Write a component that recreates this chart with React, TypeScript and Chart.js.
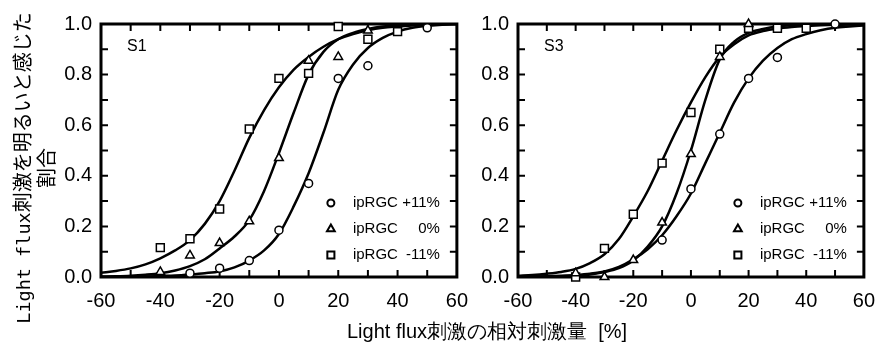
import React, { useEffect, useRef } from 'react';
import { Chart, registerables } from 'chart.js';

Chart.register(...registerables);

// ---------- data ----------
const xTickValues = [-60, -40, -20, 0, 20, 40, 60];
const yTickValues = [0, 0.2, 0.4, 0.6, 0.8, 1.0];
const xMarkValues = [-50, -40, -30, -20, -10, 0, 10, 20, 30, 40, 50];
const yMarkValues = [0.1, 0.2, 0.3, 0.4, 0.5, 0.6, 0.7, 0.8, 0.9];

const seriesLabels = ['ipRGC +11%', 'ipRGC 0%', 'ipRGC -11%'];
const panelLabels = ['S1', 'S3'];

// fitted curves sampled at these x values
const curveX = [-60, -55, -50, -45, -40, -35, -30, -25, -20, -15, -10, -5, 0, 5, 10, 15, 20, 25, 30, 35, 40, 45, 50, 55, 60];

const s1CurvePlus11 = [0, 0, 0.001, 0.002, 0.004, 0.006, 0.01, 0.015, 0.022, 0.038, 0.065, 0.105, 0.17, 0.28, 0.41, 0.57, 0.74, 0.84, 0.905, 0.945, 0.97, 0.985, 0.993, 0.997, 1.0];
const s1Curve0 = [0.002, 0.003, 0.005, 0.009, 0.015, 0.026, 0.043, 0.07, 0.113, 0.16, 0.225, 0.34, 0.49, 0.65, 0.8, 0.89, 0.94, 0.965, 0.98, 0.99, 0.995, 0.997, 0.999, 1.0, 1.0];
const s1CurveMinus11 = [0.017, 0.024, 0.034, 0.05, 0.074, 0.105, 0.146, 0.21, 0.3, 0.42, 0.55, 0.66, 0.75, 0.82, 0.87, 0.91, 0.94, 0.96, 0.975, 0.985, 0.99, 0.994, 0.997, 0.999, 1.0];

const s3CurvePlus11 = [0.001, 0.002, 0.003, 0.005, 0.008, 0.013, 0.022, 0.04, 0.07, 0.11, 0.165, 0.24, 0.33, 0.45, 0.57, 0.69, 0.785, 0.855, 0.905, 0.94, 0.96, 0.975, 0.985, 0.99, 0.994];
const s3Curve0 = [0, 0.001, 0.001, 0.002, 0.004, 0.01, 0.02, 0.035, 0.065, 0.12, 0.2, 0.33, 0.5, 0.7, 0.86, 0.93, 0.965, 0.98, 0.99, 0.995, 0.997, 0.999, 1.0, 1.0, 1.0];
const s3CurveMinus11 = [0.005, 0.008, 0.013, 0.02, 0.032, 0.055, 0.09, 0.15, 0.24, 0.34, 0.46, 0.58, 0.69, 0.79, 0.87, 0.92, 0.955, 0.972, 0.982, 0.988, 0.992, 0.995, 0.997, 0.998, 1.0];

// measured points
const s1PlusX = [-30, -20, -10, 0, 10, 20, 30, 50];
const s1PlusY = [0.015, 0.035, 0.065, 0.185, 0.37, 0.785, 0.835, 0.985];
const s1ZeroX = [-40, -30, -20, -10, 0, 10, 20, 30];
const s1ZeroY = [0.02, 0.085, 0.134, 0.22, 0.47, 0.855, 0.87, 0.974];
const s1MinusX = [-40, -30, -20, -10, 0, 10, 20, 30, 40];
const s1MinusY = [0.116, 0.151, 0.269, 0.585, 0.785, 0.805, 0.99, 0.94, 0.97];

const s3PlusX = [-10, 0, 10, 20, 30, 50];
const s3PlusY = [0.146, 0.348, 0.565, 0.785, 0.868, 1.0];
const s3ZeroX = [-40, -30, -20, -10, 0, 10, 20];
const s3ZeroY = [0.015, 0.0, 0.067, 0.215, 0.486, 0.87, 1.0];
const s3MinusX = [-40, -30, -20, -10, 0, 10, 20, 30, 40];
const s3MinusY = [0.0, 0.113, 0.248, 0.45, 0.65, 0.9, 0.983, 0.983, 0.983];

const pointStyles = ['circle', 'triangle', 'rect'];
const pointRadii = [4, 5, 5.6];

// ---------- helpers ----------
const FONT = 'Arial, "Liberation Sans", sans-serif';
const zip = (xs: number[], ys: number[]) => xs.map((x, i) => ({ x, y: ys[i] }));

function drawMarker(ctx: CanvasRenderingContext2D, style: string, x: number, y: number, r: number) {
  ctx.beginPath();
  if (style === 'circle') {
    ctx.arc(x, y, r, 0, Math.PI * 2);
  } else if (style === 'triangle') {
    const h = r * 1.5;
    const s = r * Math.sqrt(3) / 2;
    ctx.moveTo(x, y - r);
    ctx.lineTo(x + s, y - r + h);
    ctx.lineTo(x - s, y - r + h);
    ctx.closePath();
  } else {
    const s = r * Math.SQRT1_2;
    ctx.rect(x - s, y - s, 2 * s, 2 * s);
  }
  ctx.fill();
  ctx.stroke();
}

const framePlugin = {
  id: 'frame',
  beforeDatasetsDraw(chart: any) {
    const { ctx, chartArea: a, scales } = chart;
    const x = scales.x;
    const y = scales.y;
    ctx.save();
    ctx.strokeStyle = '#000';
    ctx.lineWidth = 2;
    const tl = 7;
    ctx.beginPath();
    xMarkValues.forEach((v) => {
      const px = x.getPixelForValue(v);
      ctx.moveTo(px, a.bottom);
      ctx.lineTo(px, a.bottom - tl);
      ctx.moveTo(px, a.top);
      ctx.lineTo(px, a.top + tl);
    });
    yMarkValues.forEach((v) => {
      const py = y.getPixelForValue(v);
      ctx.moveTo(a.left, py);
      ctx.lineTo(a.left + tl, py);
      ctx.moveTo(a.right, py);
      ctx.lineTo(a.right - tl, py);
    });
    ctx.stroke();
    ctx.lineWidth = 3;
    ctx.strokeRect(a.left, a.top, a.right - a.left, a.bottom - a.top);

    // panel label
    const opts = chart.options.plugins.frame || {};
    ctx.fillStyle = '#000';
    ctx.font = `16px ${FONT}`;
    ctx.textBaseline = 'top';
    ctx.textAlign = 'left';
    ctx.fillText(opts.panel || '', a.left + 26, a.top + 15);

    // legend
    const rows = [-74, -48, -22];
    ctx.font = `15px ${FONT}`;
    ctx.textBaseline = 'middle';
    seriesLabels.forEach((lab, i) => {
      const ry = a.bottom + rows[i];
      ctx.lineWidth = 2;
      ctx.fillStyle = '#fff';
      drawMarker(ctx, pointStyles[i], a.right - 126, ry, [3.5, 4.5, 5][i]);
      ctx.fillStyle = '#000';
      const sp = lab.lastIndexOf(' ');
      ctx.textAlign = 'left';
      ctx.fillText(lab.slice(0, sp), a.right - 104, ry);
      ctx.textAlign = 'right';
      ctx.fillText(lab.slice(sp + 1), a.right - 17, ry);
    });
    ctx.restore();
  },
};

function makeConfig(panel: string, curves: number[][], pts: { x: number; y: number }[][], yAxisWidth: number, padRight: number) {
  const pointSets = pts.map((data, i) => ({
    label: seriesLabels[i],
    data,
    showLine: false,
    pointStyle: pointStyles[i],
    pointRadius: pointRadii[i],
    pointBorderWidth: 1.5,
    borderColor: '#000',
    pointBackgroundColor: '#fff',
    backgroundColor: '#fff',
    clip: false,
  }));
  const curveSets = curves.map((ys, i) => ({
    label: seriesLabels[i] + ' fit',
    data: zip(curveX, ys),
    borderColor: '#000',
    borderWidth: 2.5,
    pointRadius: 0,
    cubicInterpolationMode: 'monotone',
    fill: false,
  }));
  return {
    type: 'line',
    data: { datasets: [...pointSets, ...curveSets] },
    options: {
      responsive: false,
      animation: false,
      devicePixelRatio: 1,
      layout: { padding: { top: 24, right: padRight, left: 0, bottom: 0 } },
      plugins: {
        legend: { display: false },
        tooltip: { enabled: false },
        frame: { panel },
      },
      scales: {
        x: {
          type: 'linear',
          min: -60,
          max: 60,
          grid: { display: false, drawTicks: false },
          border: { display: false },
          afterBuildTicks: (s: any) => { s.ticks = xTickValues.map((value) => ({ value })); },
          afterFit: (s: any) => { s.height = 66; },
          ticks: {
            color: '#000',
            font: { family: FONT, size: 20 },
            padding: 12,
            maxRotation: 0,
            callback: (v: any) => String(v),
          },
        },
        y: {
          type: 'linear',
          min: 0,
          max: 1,
          grid: { display: false, drawTicks: false },
          border: { display: false },
          afterBuildTicks: (s: any) => { s.ticks = yTickValues.map((value) => ({ value })); },
          afterFit: (s: any) => { s.width = yAxisWidth; },
          ticks: {
            color: '#000',
            font: { family: FONT, size: 20 },
            padding: 9,
            callback: (v: any) => Number(v).toFixed(1),
          },
        },
      },
    },
    plugins: [framePlugin],
  };
}

function Panel(props: { left: number; width: number; cfg: any }) {
  const ref = useRef<HTMLCanvasElement>(null);
  useEffect(() => {
    const chart = new Chart(ref.current as HTMLCanvasElement, props.cfg);
    return () => chart.destroy();
  }, []);
  return (
    <canvas
      ref={ref}
      width={props.width}
      height={343}
      style={{ position: 'absolute', left: props.left, top: 0, width: props.width, height: 343 }}
    />
  );
}

const lineStyle: React.CSSProperties = {
  height: 24,
  lineHeight: '24px',
  whiteSpace: 'pre',
  overflow: 'visible',
};

export default function App() {
  const cfg1 = makeConfig(
    panelLabels[0],
    [s1CurvePlus11, s1Curve0, s1CurveMinus11],
    [zip(s1PlusX, s1PlusY), zip(s1ZeroX, s1ZeroY), zip(s1MinusX, s1MinusY)],
    101,
    22,
  );
  const cfg2 = makeConfig(
    panelLabels[1],
    [s3CurvePlus11, s3Curve0, s3CurveMinus11],
    [zip(s3PlusX, s3PlusY), zip(s3ZeroX, s3ZeroY), zip(s3MinusX, s3MinusY)],
    78,
    13,
  );
  return (
    <div style={{ position: 'fixed', left: 0, top: 0, width: 887, height: 343, background: '#fff', overflow: 'hidden' }}>
      <Panel left={0} width={480} cfg={cfg1} />
      <Panel left={440} width={447} cfg={cfg2} />
      <div
        style={{
          position: 'absolute',
          left: 34 - 171,
          top: 168 - 24,
          width: 342,
          height: 48,
          transform: 'rotate(-90deg)',
          textAlign: 'center',
          fontFamily: '"Noto Sans CJK JP", sans-serif',
          fontSize: 20,
          color: '#000',
        }}
      >
        <div style={lineStyle}>
          <span style={{ fontFamily: '"DejaVu Sans Mono", monospace', fontSize: 18.5 }}>Light flux</span>刺激を明るいと感じた
        </div>
        <div style={lineStyle}>割合</div>
      </div>
      <div
        style={{
          position: 'absolute',
          left: 487,
          top: 321,
          transform: 'translateX(-50%)',
          fontFamily: FONT,
          fontSize: 20,
          lineHeight: '20px',
          color: '#000',
          whiteSpace: 'pre',
        }}
      >
        Light flux刺激の相対刺激量  [%]
      </div>
    </div>
  );
}
